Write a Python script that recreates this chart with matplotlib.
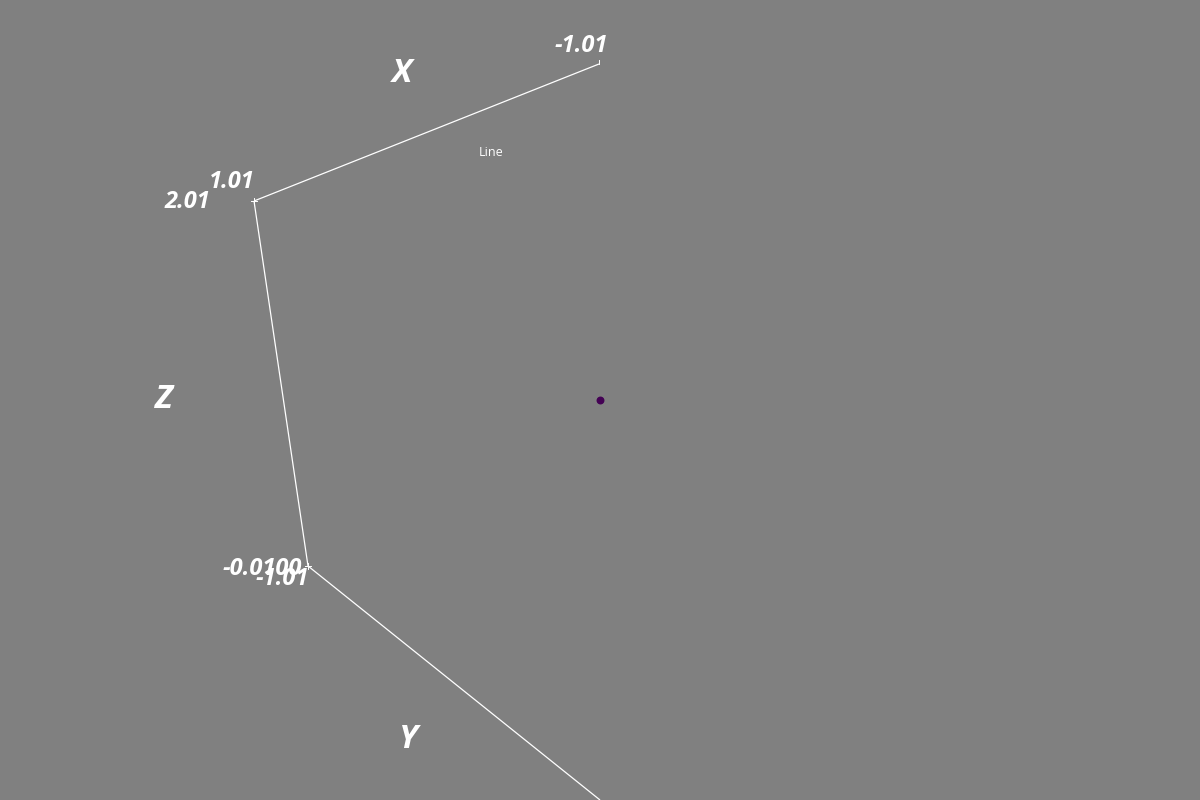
import matplotlib.pyplot as plt

# projected screen positions of the bounding axes (pixels)
x_axis = [(254, 201), (599, 64)]
z_axis = [(254, 201), (308, 566)]
y_axis = [(308, 566), (600, 800)]
point = (600, 400)

tick_labels = ['-1.01', '1.01', '2.01', '-0.0100', '-1.01']
tick_pos = [(581, 46), (232, 182), (187, 202), (262, 569), (282, 579)]
axis_titles = ['X', 'Z', 'Y']
title_pos = [(402, 73), (164, 400), (408, 740)]

bg = '#808080'
fig = plt.figure(figsize=(12, 8), dpi=100, facecolor=bg)
ax = fig.add_axes([0, 0, 1, 1])
ax.set_facecolor(bg)
ax.set_xlim(0, 1200)
ax.set_ylim(800, 0)
ax.axis('off')

for seg in (x_axis, z_axis, y_axis):
    xs, ys = zip(*seg)
    ax.plot(xs, ys, color='white', lw=0.9, solid_capstyle='butt')

# small tick marks at the ends
for (px, py) in [x_axis[0], z_axis[1]]:
    ax.plot([px - 3, px + 3], [py, py], color='white', lw=0.7)
    ax.plot([px, px], [py - 3, py + 3], color='white', lw=0.7)
ax.plot([x_axis[1][0], x_axis[1][0]], [x_axis[1][1] - 4, x_axis[1][1]], color='white', lw=0.7)

ax.scatter([point[0]], [point[1]], s=22, color='#440154', zorder=3)

for lab, (px, py) in zip(tick_labels, tick_pos):
    ax.text(px, py, lab, color='white', fontsize=17, fontweight='bold', style='italic',
            family='Open Sans', ha='center', va='center')
for lab, (px, py) in zip(axis_titles, title_pos):
    ax.text(px, py, lab, color='white', fontsize=24, fontweight='bold', style='italic',
            family='Open Sans', ha='center', va='center')

ax.text(491, 152, 'Line', color='white', fontsize=9, family='Open Sans',
        ha='center', va='center')

fig.savefig('out.png', dpi=100, facecolor=bg)
